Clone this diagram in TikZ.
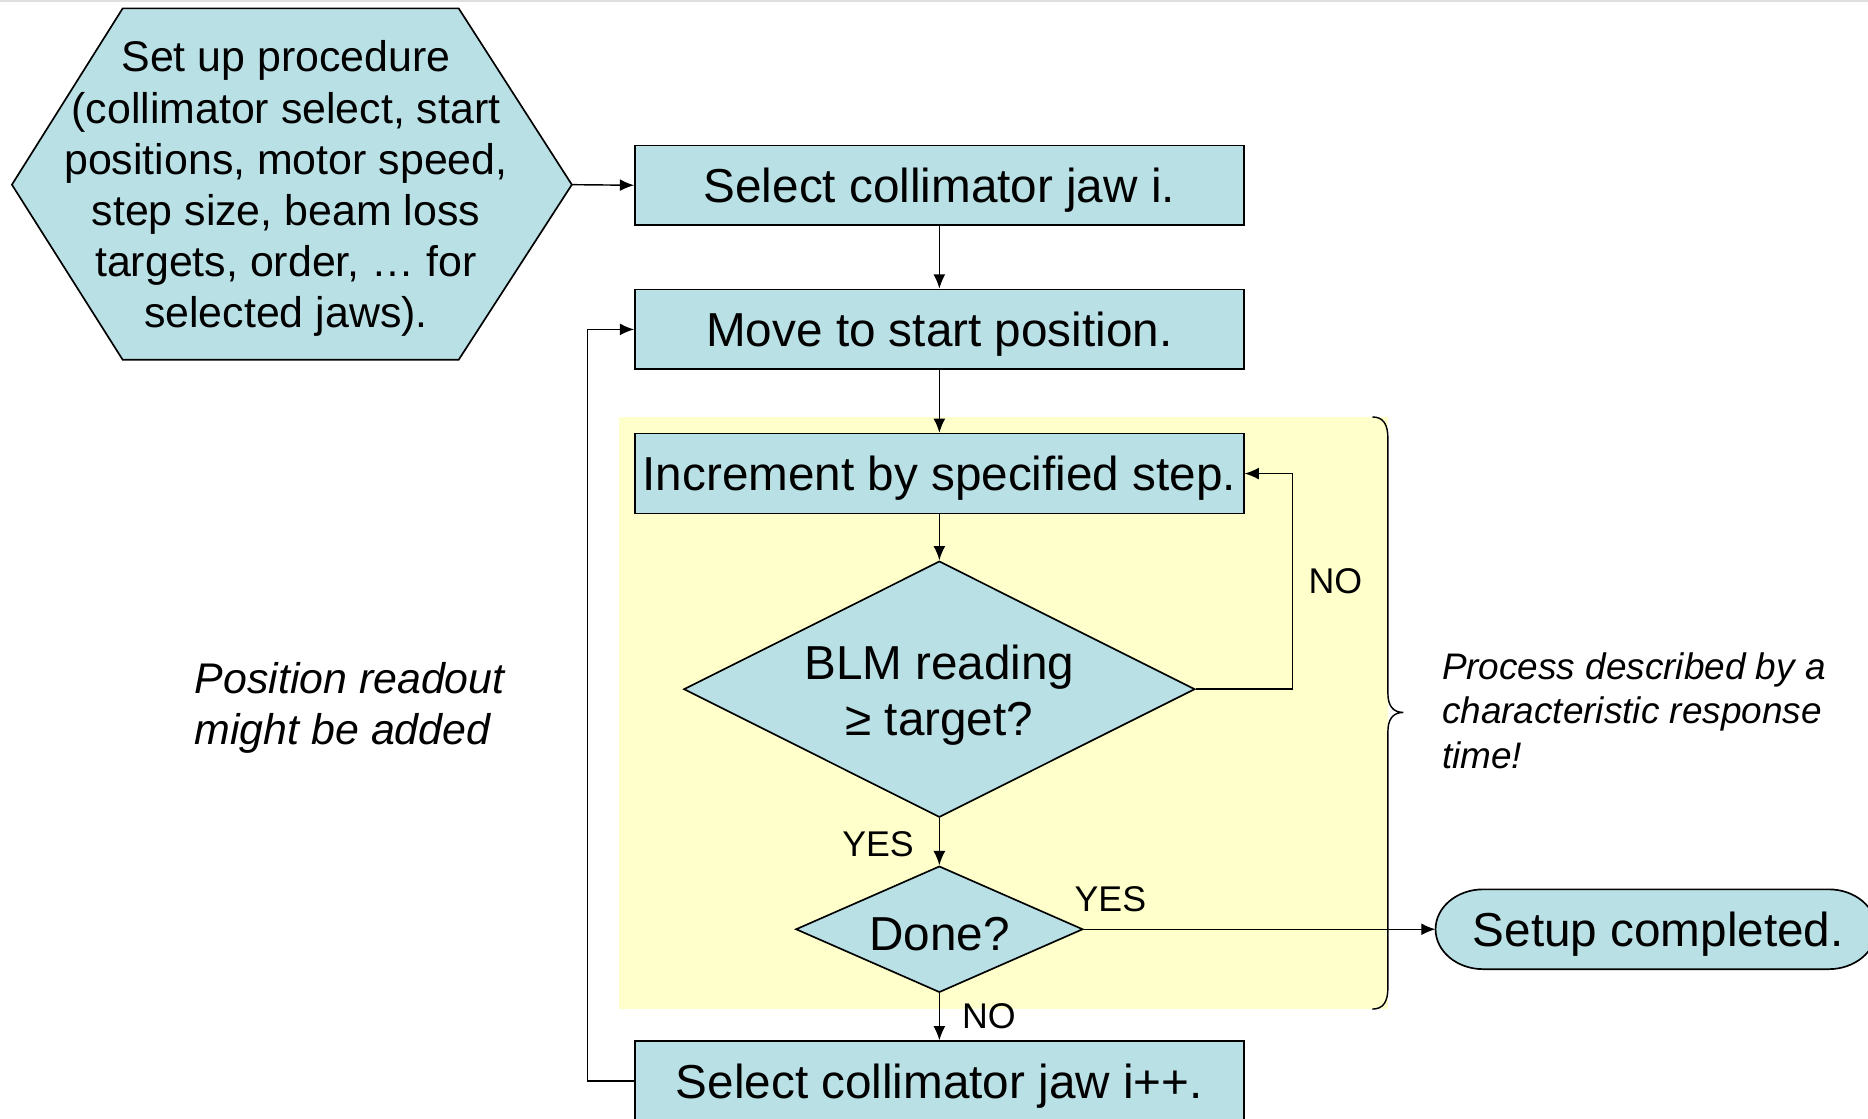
\documentclass[tikz,border=0pt]{standalone}
\usepackage{fontspec}
\setmainfont{Liberation Sans}
\usetikzlibrary{shapes.geometric,arrows.meta,calc}
\definecolor{boxblue}{RGB}{185,224,228}
\definecolor{paleyellow}{RGB}{255,255,204}
\begin{document}
\begin{tikzpicture}[x=0.5pt,y=-0.5pt,
  flow/.style={draw=black,line width=0.7pt,fill=boxblue},
  stepbox/.style={flow,rectangle,minimum width=255.5pt,minimum height=33.5pt,inner sep=0pt,text height=18.5pt,text depth=4.2pt,font=\fontsize{20}{24}\selectfont},
  decision/.style={flow,diamond,inner sep=0pt},
  dtext/.style={align=center,inner sep=0pt,yshift=-2pt,font=\fontsize{20}{23.5}\selectfont},
  arr/.style={line width=0.6pt,-{Latex[length=6pt,width=5pt]}},
  line/.style={line width=0.6pt},
  lbl/.style={inner sep=0pt,yshift=-0.5pt,font=\fontsize{15}{18}\selectfont},
  note/.style={align=left,inner sep=0pt,anchor=west}
]
\useasboundingbox (0,0) rectangle (1568,939);
\clip (0,0) rectangle (1568,939);
% top artifact line
\draw[gray!25,line width=1pt] (0,1) -- (1568,1);
% yellow region
\fill[paleyellow] (520,350) rectangle (1165,847);
% hexagon
\path[flow] (10,155) coordinate (hexL) -- (103,7) -- (385,7) -- (480,155) coordinate (hexR) -- (385,302) -- (103,302) -- cycle;
\node[align=center,inner sep=0pt,yshift=-1.5pt,font=\fontsize{18}{21.5}\selectfont] (setup) at (240,155.5)
  {Set up procedure\\(collimator select, start\\positions, motor speed,\\step size, beam loss\\targets, order, … for\\selected jaws).};
% boxes
\node[stepbox] (sel) at (788.5,155.5) {Select collimator jaw i.};
\node[stepbox] (move) at (788.5,276.5) {Move to start position.};
\node[stepbox] (inc) at (788.5,397.5) {Increment by specified step.};
\node[stepbox] (next) at (788.5,907.5) {Select collimator jaw i++.};
% diamonds
\node[decision,minimum width=214.5pt,minimum height=107.5pt] (blm) at (788.5,578.5) {};
\node[dtext] (blmtext) at (788.5,579.5) {BLM reading\\≥ target?};
\node[decision,minimum width=120.5pt,minimum height=53pt] (done) at (788.5,780) {};
\node[dtext] (donetext) at (788.5,780) {Done?};
% terminator
\path[flow] (1245,746.5) -- (1535,746.5) arc[start angle=90,end angle=-90,x radius=20pt,y radius=16.75pt]
  -- (1245,813.5) arc[start angle=270,end angle=90,x radius=20pt,y radius=16.75pt] -- cycle;
\coordinate (finL) at (1205,780);
\node[inner sep=0pt,yshift=-2pt,font=\fontsize{20}{24}\selectfont] (fin) at (1392,780) {Setup completed.};
% connectors
\draw[arr] (hexR) -- (sel.west);
\draw[arr] (sel.south) -- (move.north);
\draw[arr] (move.south) -- (inc.north);
\draw[arr] (inc.south) -- (blm.north);
\draw[arr] (blm.east) -- ++(81,0) |- (inc.east);
\draw[arr] (blm.south) -- (done.north);
\draw[arr] (done.east) -- (finL);
\draw[arr] (done.south) -- (next.north);
\draw[arr] (next.west) -- ++(-39,0) |- (move.west);
% labels
\node[lbl] at (1121,487) {NO};
\node[lbl] at (737,708) {YES};
\node[lbl] at (932,754) {YES};
\node[lbl] at (830,852) {NO};
% brace
\coordinate (bt) at (1152,350);
\coordinate (bb) at (1152,847);
\coordinate (btip) at (1178,598);
\draw[line] (bt) .. controls (1161,350) and (1165,356) .. (1165,368) -- (1165,582)
  .. controls (1165,592) and (1169,598) .. (btip)
  .. controls (1169,598) and (1165,604) .. (1165,614) -- (1165,829)
  .. controls (1165,841) and (1161,847) .. (bb);
% notes
\node[note,yshift=-2pt,font=\itshape\fontsize{18}{21.5}\selectfont] (pos) at (163,590.5) {Position readout\\might be added};
\node[note,yshift=-0.5pt,font=\itshape\fontsize{15.5}{18.75}\selectfont] (proc) at (1210,595.5) {Process described by a\\characteristic response\\time!};
\end{tikzpicture}
\end{document}
